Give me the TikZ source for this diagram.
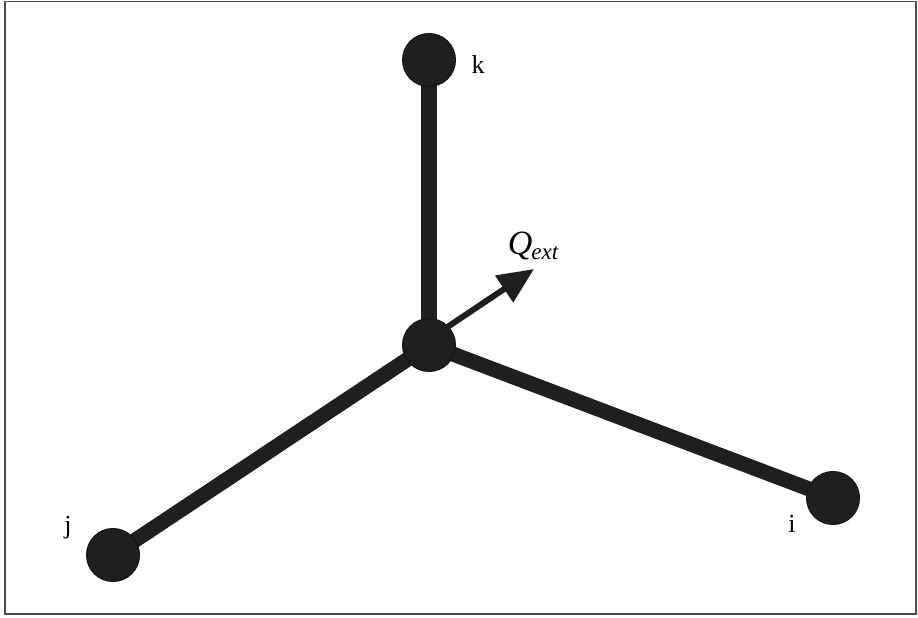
\documentclass[tikz,border=0pt]{standalone}
\usepackage{fontspec}
\setmainfont{Liberation Serif}
\usetikzlibrary{arrows.meta}
\begin{document}
\begin{tikzpicture}[x=1pt,y=-1pt,
  ball/.style={circle,fill=black!88,draw=black!92,line width=1pt,minimum size=53pt,inner sep=0pt},
  rod/.style={line width=16pt,draw=black!88},
  lbl/.style={font=\fontsize{26}{28}\selectfont,inner sep=0pt}]
\useasboundingbox (0,0) rectangle (918,618);
\draw[line width=1.5pt,draw=black!70] (5,1.5) rectangle (916,614);
\coordinate (ck) at (429,60);
\coordinate (cc) at (429,345);
\coordinate (cj) at (113,555);
\coordinate (ci) at (833,498);
\draw[rod] (cc) -- (ck);
\draw[rod,line width=15pt] (cc) -- (cj);
\draw[rod,line width=15pt] (cc) -- (ci);
\node[ball] (k) at (ck) {};
\node[ball] (c) at (cc) {};
\node[ball] (j) at (cj) {};
\node[ball] (i) at (ci) {};
\coordinate (qtip) at (534,269);
\draw[line width=6pt,draw=black!88,-{Triangle[length=36pt,width=31pt]}] (c.north east) ++(-2,2) coordinate (qs) -- (qtip);
\node[lbl] (lk) at (478,64) {k};
\node[lbl] (lj) at (68,528) {j};
\node[lbl] (li) at (792,524) {i};
\node[lbl,font=\fontsize{34}{36}\selectfont\itshape] (lq) at (533,246) {Q\kern-1pt\raisebox{-0.3ex}{\fontsize{23}{24}\selectfont ext}};
\end{tikzpicture}
\end{document}
